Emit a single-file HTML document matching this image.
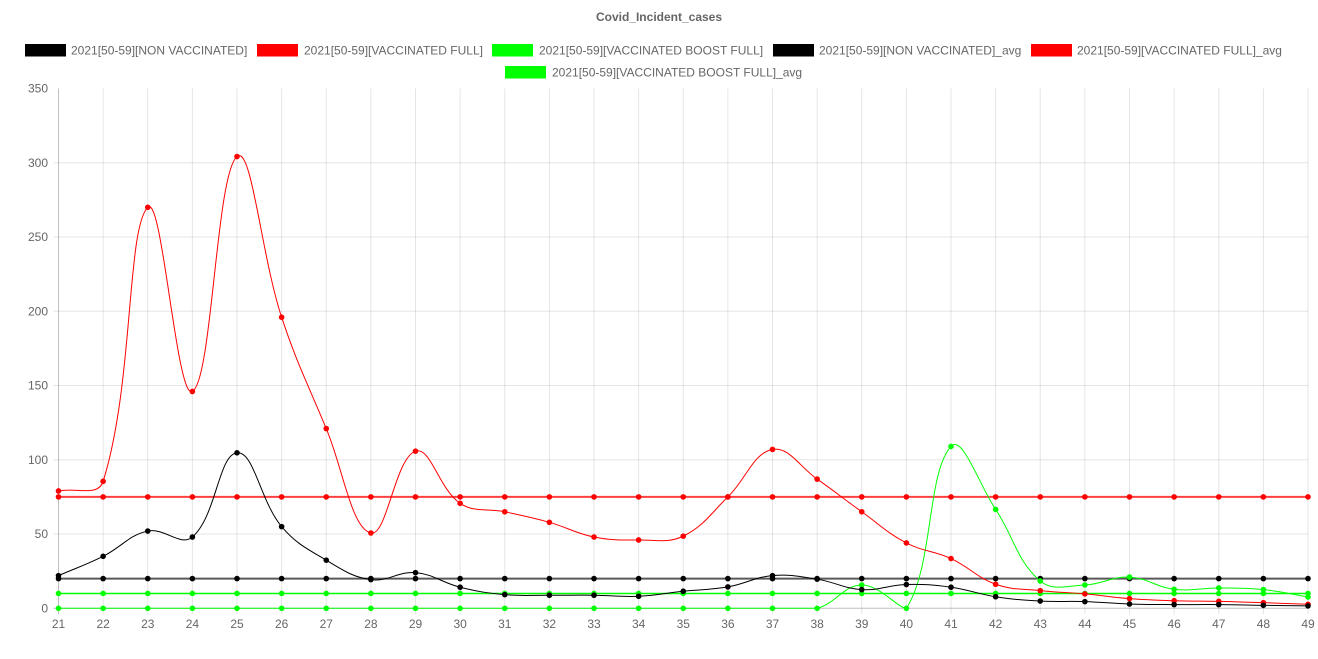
<!DOCTYPE html>
<html><head><meta charset="utf-8"><style>
html,body{margin:0;padding:0;background:#fff;}
body{width:1318px;height:659px;overflow:hidden;position:relative;font-family:"Liberation Sans",Arial,sans-serif;}
svg{position:absolute;left:0;top:0;}
</style></head><body>
<svg id="c" width="1318" height="659" xmlns="http://www.w3.org/2000/svg" font-family="Liberation Sans, Arial, sans-serif">
<text x="659" y="21" text-anchor="middle" font-size="12" font-weight="bold" fill="#666">Covid_Incident_cases</text>
<g font-size="12" fill="#666">
<rect x="25" y="44" width="41" height="12.5" fill="#000"/><text x="71" y="54.5">2021[50-59][NON VACCINATED]</text>
<rect x="257" y="44" width="41" height="12.5" fill="#f00"/><text x="304" y="54.5">2021[50-59][VACCINATED FULL]</text>
<rect x="492" y="44" width="41" height="12.5" fill="#0f0"/><text x="539" y="54.5">2021[50-59][VACCINATED BOOST FULL]</text>
<rect x="773" y="44" width="41" height="12.5" fill="#000"/><text x="819" y="54.5">2021[50-59][NON VACCINATED]_avg</text>
<rect x="1031" y="44" width="41" height="12.5" fill="#f00"/><text x="1077" y="54.5">2021[50-59][VACCINATED FULL]_avg</text>
<rect x="505" y="66" width="41" height="12.5" fill="#0f0"/><text x="552" y="76.5">2021[50-59][VACCINATED BOOST FULL]_avg</text>
</g>
<g id="grid"></g>
<g id="series"></g>
</svg>
<script>
(function(){
var NS="http://www.w3.org/2000/svg";
var L=58.5,R=1308,T=88.5,B=608.3,N=28;
function X(i){return L+(R-L)*i/N;}
function Y(v){return B-(B-T)*v/350;}
var g=document.getElementById('grid'),s=document.getElementById('series');
function el(tag,attrs,parent,txt){var e=document.createElementNS(NS,tag);for(var k in attrs)e.setAttribute(k,attrs[k]);if(txt!==undefined)e.textContent=txt;parent.appendChild(e);return e;}
for(var v=0;v<=350;v+=50){
  var y=Y(v);
  if(v<350) el('line',{x1:L-5,x2:R,y1:y,y2:y,stroke:v==0?'rgba(0,0,0,0.25)':'rgba(0,0,0,0.1)','stroke-width':1},g);
  el('text',{x:48,y:y+4,'text-anchor':'end','font-size':12,fill:'#666'},g,String(v));
}
for(var i=0;i<=N;i++){
  var x=X(i);
  el('line',{x1:x,x2:x,y1:T,y2:B+6,stroke:i==0?'rgba(0,0,0,0.25)':'rgba(0,0,0,0.1)','stroke-width':1},g);
  el('text',{x:x,y:628,'text-anchor':'middle','font-size':12,fill:'#666'},g,String(21+i));
}
var black=[22,35,52,48,104.7,55,32.4,19.3,24,14.2,9.2,8.8,8.8,8.1,11.5,14.4,22,19.6,12.6,16,14.2,7.8,4.9,4.5,2.9,2.5,2.5,2,1.6];
var red=[79,85.5,270,146,304.2,196,121,50.7,105.8,70.7,65,57.9,48,46,48.6,75,107,87,65,44,33.5,16.2,11.9,9.7,6.5,5.1,4.7,3.8,2.7];
var green=[0,0,0,0,0,0,0,0,0,0,0,0,0,0,0,0,0,0,15.7,0,109,66.6,18.4,15.7,21,12.8,13.7,12.6,7.6];
function fill(v){var a=[];for(var i=0;i<=N;i++)a.push(v);return a;}
function path(data){
  var p=data.map(function(v,i){return {x:X(i),y:Y(v)};});
  var t=0.4,cps=[];
  for(var i=0;i<p.length;i++){
    var pr=p[i-1]||p[i],cu=p[i],nx=p[i+1]||p[i];
    var d01=Math.hypot(cu.x-pr.x,cu.y-pr.y),d12=Math.hypot(nx.x-cu.x,nx.y-cu.y);
    var s01=d01/(d01+d12),s12=d12/(d01+d12);
    if(isNaN(s01))s01=0;if(isNaN(s12))s12=0;
    var fa=t*s01,fb=t*s12;
    var c={px:cu.x-fa*(nx.x-pr.x),py:cu.y-fa*(nx.y-pr.y),nx:cu.x+fb*(nx.x-pr.x),ny:cu.y+fb*(nx.y-pr.y)};
    c.py=Math.max(T,Math.min(B,c.py));c.ny=Math.max(T,Math.min(B,c.ny));
    c.px=Math.max(L,Math.min(R,c.px));c.nx=Math.max(L,Math.min(R,c.nx));
    cps.push(c);
  }
  var d='M'+p[0].x+' '+p[0].y;
  for(var i=1;i<p.length;i++){
    d+=' C'+cps[i-1].nx+' '+cps[i-1].ny+' '+cps[i].px+' '+cps[i].py+' '+p[i].x+' '+p[i].y;
  }
  return {d:d,p:p};
}
function draw(data,color,w,op){
  var r=path(data);
  el('path',{d:r.d,fill:'none',stroke:color,'stroke-width':w,'stroke-opacity':op},s);
  r.p.forEach(function(q){el('circle',{cx:q.x,cy:q.y,r:2.8,fill:color},s);});
}
draw(fill(10),'#00ff00',1.5,1);
draw(fill(75),'#ff0000',2,0.75);
draw(fill(20),'#000000',2,0.65);
draw(green,'#00ff00',1,1);
draw(red,'#ff0000',1,1);
draw(black,'#000000',1,1);
})();
</script>
</body></html>
